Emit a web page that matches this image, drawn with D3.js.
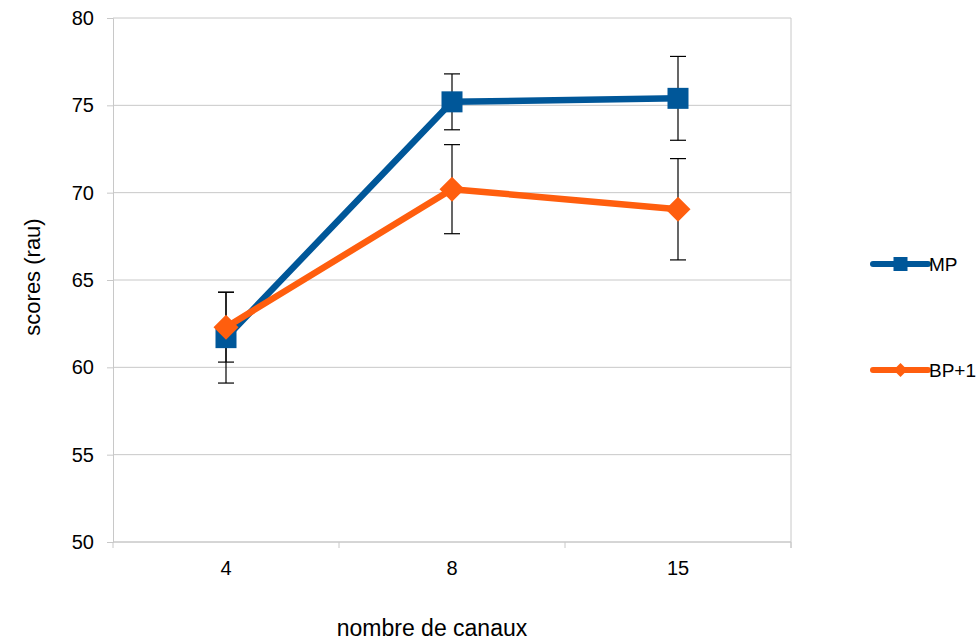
<!DOCTYPE html>
<html>
<head>
<meta charset="utf-8">
<script src="https://cdn.jsdelivr.net/npm/d3@7"></script>
<style>
  body { margin: 0; background: #fff; }
  svg { display: block; font-family: "Liberation Sans", Arial, sans-serif; }
</style>
</head>
<body>
<svg id="chart" width="979" height="641"></svg>
<script>
// Scores per number of channels, with error bar half-widths
const categories = ["4", "8", "15"];
const seriesNames = ["MP", "BP+1"];
const mpValues = [61.7, 75.2, 75.4];
const mpErrors = [2.6, 1.6, 2.4];
const bpValues = [62.3, 70.2, 69.05];
const bpErrors = [2.0, 2.55, 2.9];
const yTicks = [50, 55, 60, 65, 70, 75, 80];

const colors = { "MP": "#005799", "BP+1": "#ff5e0e" };
const series = [
  { name: seriesNames[0], values: mpValues, errors: mpErrors, shape: "square" },
  { name: seriesNames[1], values: bpValues, errors: bpErrors, shape: "diamond" }
];

const svg = d3.select("#chart");
const m = { left: 113, top: 18, right: 791, bottom: 542 };

const x = d3.scaleBand().domain(categories).range([m.left, m.right]).paddingInner(0).paddingOuter(0);
const y = d3.scaleLinear().domain([50, 80]).range([m.bottom, m.top]);
const cx = c => x(c) + x.bandwidth() / 2;

const gridColor = "#c8c8c8";

// horizontal gridlines
svg.append("g").selectAll("line").data(yTicks).join("line")
  .attr("x1", m.left).attr("x2", m.right)
  .attr("y1", d => y(d)).attr("y2", d => y(d))
  .attr("stroke", gridColor).attr("stroke-width", 1);

// right border of plot area
svg.append("line")
  .attr("x1", m.right).attr("x2", m.right).attr("y1", m.top).attr("y2", m.bottom + 6)
  .attr("stroke", gridColor);

// y axis
const yAxis = svg.append("g").attr("transform", `translate(${m.left},0)`)
  .call(d3.axisLeft(y).tickValues(yTicks).tickSize(6).tickPadding(13));
yAxis.select(".domain").attr("stroke", gridColor);
yAxis.selectAll(".tick line").attr("stroke", gridColor);
yAxis.selectAll(".tick text").attr("font-size", 20).attr("fill", "#000")
  .attr("font-family", "Liberation Sans, Arial, sans-serif");

// x axis: ticks at category boundaries, labels centered in each band
const xAxisG = svg.append("g").attr("transform", `translate(0,${m.bottom})`);
xAxisG.append("line").attr("x1", m.left).attr("x2", m.right).attr("stroke", gridColor);
const bounds = categories.map(c => x(c)).concat([m.right]);
xAxisG.selectAll("line.b").data(bounds).join("line").attr("class", "b")
  .attr("x1", d => d).attr("x2", d => d).attr("y1", 0).attr("y2", 6)
  .attr("stroke", gridColor);
xAxisG.selectAll("text").data(categories).join("text")
  .attr("x", d => cx(d)).attr("y", 33)
  .attr("text-anchor", "middle").attr("font-size", 20).attr("fill", "#000")
  .text(d => d);

// axis titles
svg.append("text")
  .attr("transform", `translate(40,${(m.top + m.bottom) / 2 - 3}) rotate(-90)`)
  .attr("text-anchor", "middle").attr("font-size", 22).attr("fill", "#000")
  .text("scores (rau)");
svg.append("text")
  .attr("x", 432).attr("y", 636)
  .attr("text-anchor", "middle").attr("font-size", 23).attr("fill", "#000")
  .text("nombre de canaux");

const line = d3.line().x((d, i) => cx(categories[i])).y(d => y(d));

function marker(sel, shape, size, color) {
  if (shape === "square") {
    sel.append("rect").attr("x", -size / 2).attr("y", -size / 2)
      .attr("width", size).attr("height", size).attr("fill", color);
  } else {
    const r = size / 2 + 2;
    sel.append("path").attr("d", `M0,${-r}L${r},0L0,${r}L${-r},0Z`).attr("fill", color);
  }
}

series.forEach(s => {
  // error bars
  const eb = svg.append("g");
  s.values.forEach((v, i) => {
    const px = cx(categories[i]);
    const lo = y(v - s.errors[i]), hi = y(v + s.errors[i]);
    eb.append("line").attr("x1", px).attr("x2", px).attr("y1", lo).attr("y2", hi)
      .attr("stroke", "#000").attr("stroke-width", 1.2);
    [lo, hi].forEach(yy => eb.append("line")
      .attr("x1", px - 8).attr("x2", px + 8).attr("y1", yy).attr("y2", yy)
      .attr("stroke", "#000").attr("stroke-width", 1.2));
  });
});

series.forEach(s => {
  const col = colors[s.name];
  svg.append("path").datum(s.values).attr("d", line)
    .attr("fill", "none").attr("stroke", col).attr("stroke-width", 6.5)
    .attr("stroke-linejoin", "round");
  s.values.forEach((v, i) => {
    const g = svg.append("g").attr("transform", `translate(${cx(categories[i])},${y(v)})`);
    marker(g, s.shape, 21, col);
  });
});

// legend
const legendY = [264, 370];
series.forEach((s, i) => {
  const col = colors[s.name];
  const g = svg.append("g").attr("transform", `translate(0,${legendY[i]})`);
  g.append("line").attr("x1", 873).attr("x2", 928).attr("y1", 0).attr("y2", 0)
    .attr("stroke", col).attr("stroke-width", 6).attr("stroke-linecap", "round");
  const mg = g.append("g").attr("transform", "translate(900.5,0)");
  if (s.shape === "square") {
    mg.append("rect").attr("x", -7).attr("y", -7).attr("width", 14).attr("height", 14).attr("fill", col);
  } else {
    mg.append("path").attr("d", "M0,-7L7,0L0,7L-7,0Z").attr("fill", col);
  }
  g.append("text").attr("x", 929).attr("y", 7).attr("font-size", 19).attr("fill", "#000")
    .text(s.name);
});
</script>
</body>
</html>
